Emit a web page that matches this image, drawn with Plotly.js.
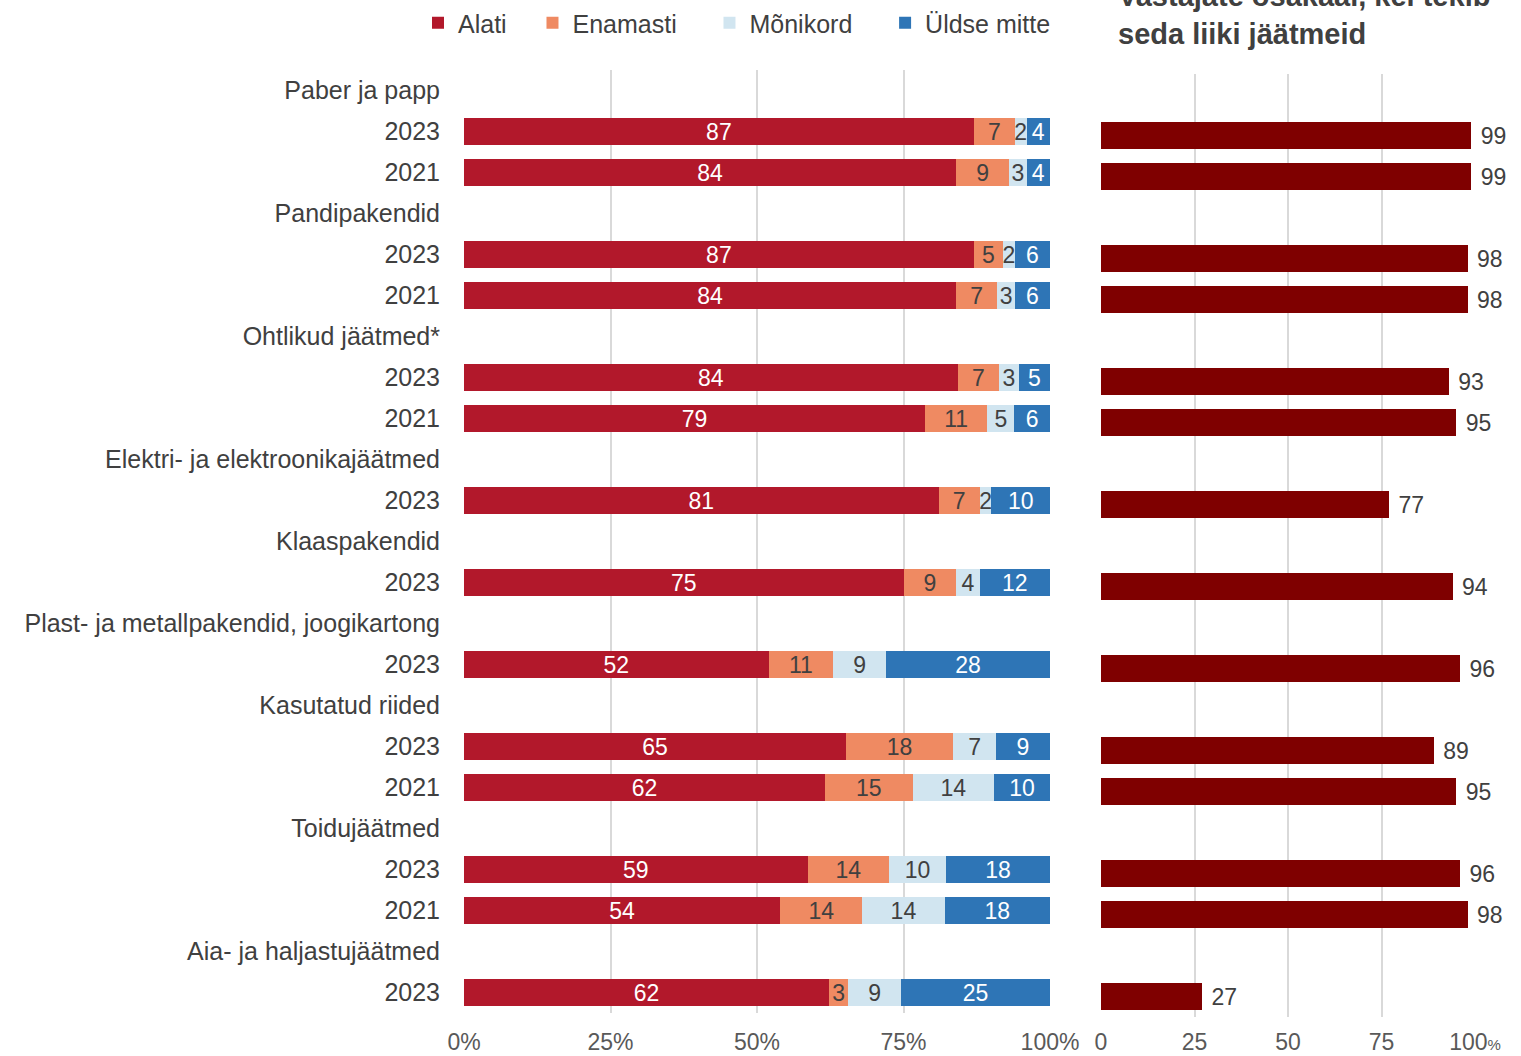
<!DOCTYPE html>
<html>
<head>
<meta charset="utf-8">
<script src="https://cdn.plot.ly/plotly-3.0.1.min.js"></script>
<style>
  body { margin: 0; background: #fff; }
  #chart { width: 1521px; height: 1056px; }
</style>
</head>
<body>
<div id="chart"></div>
<script>
// rows: group header, then the survey years under it
var rowLabels = [
  "Paber ja papp", "2023", "2021",
  "Pandipakendid", "2023", "2021",
  "Ohtlikud jäätmed*", "2023", "2021",
  "Elektri- ja elektroonikajäätmed", "2023",
  "Klaaspakendid", "2023",
  "Plast- ja metallpakendid, joogikartong", "2023",
  "Kasutatud riided", "2023", "2021",
  "Toidujäätmed", "2023", "2021",
  "Aia- ja haljastujäätmed", "2023"
];

// shares in % (labels are these rounded)
var alati      = [null, 87, 84, null, 87, 84, null, 84.25, 78.67, null, 81, null, 75, null, 52, null, 65.19, 61.6, null, 58.65, 54, null, 62.29];
var enamasti   = [null, 7, 9, null, 5, 7, null, 7.1, 10.63, null, 7, null, 9, null, 11, null, 18.3, 14.96, null, 13.88, 14, null, 3.29];
var monikord   = [null, 2, 3, null, 2, 3, null, 3.3, 4.6, null, 2, null, 4, null, 9, null, 7.28, 13.88, null, 9.72, 14, null, 8.99];
var yldseMitte = [null, 4, 4, null, 6, 6, null, 5.35, 6.1, null, 10, null, 12, null, 28, null, 9.22, 9.56, null, 17.75, 18, null, 25.43];

// vastajate osakaal, kel tekib seda liiki jäätmeid
var tekib = [null, 99, 99, null, 98, 98, null, 93, 95, null, 77, null, 94, null, 96, null, 89, 95, null, 96, 98, null, 27];

var seriesNames = ["Alati", "Enamasti", "Mõnikord", "Üldse mitte"];
var seriesColors = ["#B2182B", "#EF8A62", "#D1E5F0", "#2E75B6"];
var labelColors = ["#ffffff", "#404040", "#404040", "#ffffff"];
// extra room after each legend entry (nbsp count)
var legendPad = [3, 4, 4, 0];

var pctTicks = [0, 25, 50, 75, 100];
var pctTickText = ["0%", "25%", "50%", "75%", "100%"];
var numTickText = ["0", "25", "50", "75", "100<span style='font-size:15px'>%</span>"];

var fontFam = "Liberation Sans, Arial, sans-serif";
var rowIdx = rowLabels.map(function (_, i) { return i; });

var data = [];
[alati, enamasti, monikord, yldseMitte].forEach(function (vals, k) {
  data.push({
    type: "bar",
    orientation: "h",
    name: seriesNames[k] + "\u00a0".repeat(legendPad[k]),
    x: vals,
    y: rowIdx,
    texttemplate: "%{x:.0f}",
    textposition: "inside",
    insidetextanchor: "middle",
    textangle: 0,
    constraintext: "none",
    textfont: { family: fontFam, size: 23, color: labelColors[k] },
    marker: { color: seriesColors[k], line: { width: 0 } },
    xaxis: "x",
    yaxis: "y",
    hoverinfo: "skip"
  });
});

data.push({
  type: "bar",
  orientation: "h",
  name: "Tekib",
  showlegend: false,
  x: tekib,
  y: rowIdx,
  text: tekib.map(function (v) { return v === null ? "" : "\u00a0" + v; }),
  texttemplate: "%{text}",
  textposition: "outside",
  cliponaxis: false,
  constraintext: "none",
  textfont: { family: fontFam, size: 23, color: "#404040" },
  marker: { color: "#7F0000", line: { width: 0 } },
  xaxis: "x2",
  yaxis: "y2",
  hoverinfo: "skip"
});

var yTop = 1 - 70 / 1056;
var yBot = 1 - 1013 / 1056;
var shift = 4 / 1056;

var layout = {
  width: 1521,
  height: 1056,
  margin: { l: 0, r: 0, t: 0, b: 0 },
  paper_bgcolor: "#ffffff",
  plot_bgcolor: "rgba(0,0,0,0)",
  font: { family: fontFam, color: "#595959" },
  barmode: "stack",
  bargap: 0.34,
  showlegend: true,
  legend: {
    orientation: "h",
    x: 418 / 1521,
    xanchor: "left",
    y: 1.0,
    yanchor: "top",
    font: { family: fontFam, size: 25, color: "#404040" },
    bgcolor: "rgba(0,0,0,0)",
    traceorder: "normal"
  },
  xaxis: {
    domain: [464 / 1521, 1050 / 1521],
    range: [0, 100],
    tickvals: pctTicks,
    ticktext: pctTickText,
    tickfont: { size: 23, color: "#595959" },
    ticks: "outside",
    ticklen: 8,
    tickcolor: "rgba(0,0,0,0)",
    showgrid: true,
    gridcolor: "#d9d9d9",
    gridwidth: 2,
    zeroline: false,
    showline: false,
    fixedrange: true,
    automargin: false
  },
  yaxis: {
    domain: [yBot, yTop],
    range: [rowLabels.length - 0.5, -0.5],
    tickvals: rowIdx,
    ticktext: rowLabels,
    tickfont: { size: 25, color: "#404040" },
    ticks: "outside",
    ticklen: 18,
    tickcolor: "rgba(0,0,0,0)",
    showgrid: false,
    zeroline: false,
    showline: false,
    fixedrange: true,
    automargin: false
  },
  xaxis2: {
    domain: [1101 / 1521, 1475 / 1521],
    range: [0, 100],
    anchor: "y2",
    tickvals: pctTicks,
    ticktext: numTickText,
    tickfont: { size: 23, color: "#595959" },
    ticks: "outside",
    ticklen: 4,
    tickcolor: "rgba(0,0,0,0)",
    showgrid: true,
    gridcolor: "#d9d9d9",
    gridwidth: 2,
    zeroline: false,
    showline: false,
    fixedrange: true,
    automargin: false
  },
  yaxis2: {
    domain: [yBot - shift, yTop - shift],
    range: [rowLabels.length - 0.5, -0.5],
    anchor: "x2",
    showticklabels: false,
    showgrid: false,
    zeroline: false,
    showline: false,
    fixedrange: true
  },
  annotations: [{
    xref: "paper",
    yref: "paper",
    x: 1116 / 1521,
    y: 1 - 52 / 1056,
    xanchor: "left",
    yanchor: "bottom",
    align: "left",
    showarrow: false,
    text: "<b>Vastajate osakaal, kel tekib<br>seda liiki jäätmeid</b>",
    font: { family: fontFam, size: 29, color: "#404040" }
  }]
};

Plotly.newPlot("chart", data, layout, { displayModeBar: false, staticPlot: true });
</script>
</body>
</html>
